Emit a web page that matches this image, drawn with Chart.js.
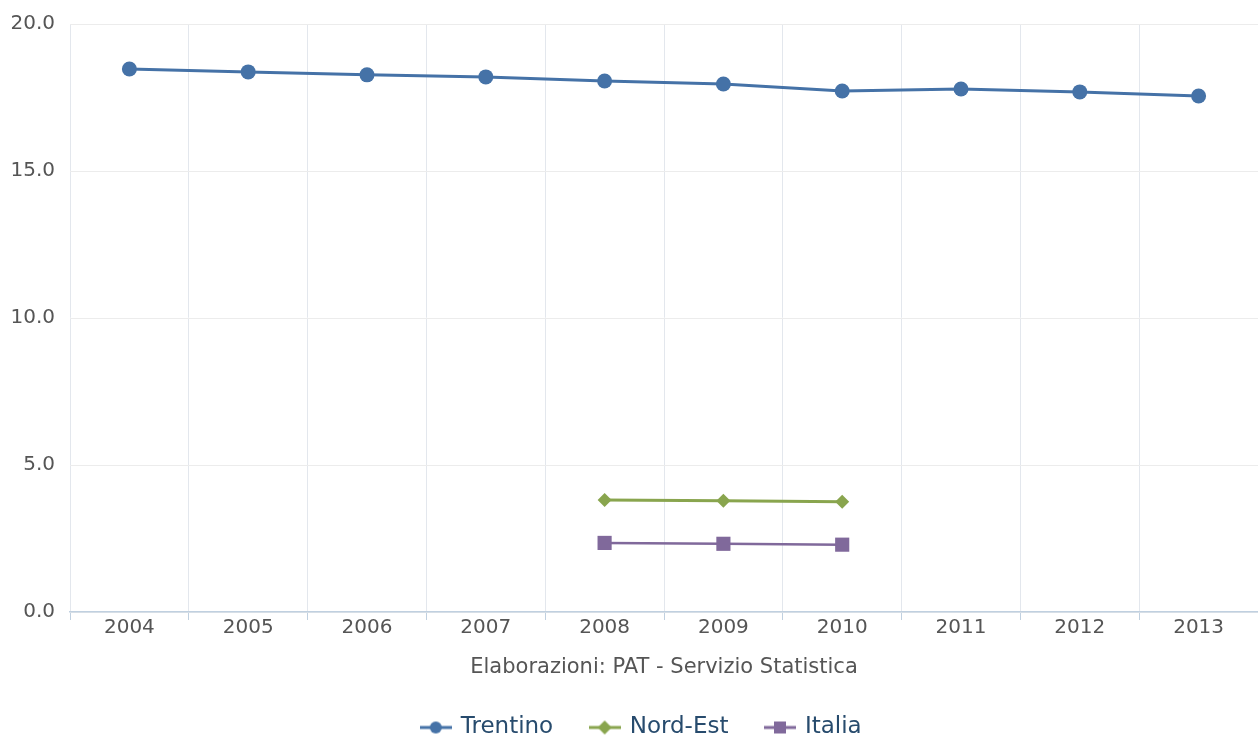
<!DOCTYPE html>
<html>
<head>
<meta charset="utf-8">
<script src="https://cdn.jsdelivr.net/npm/chart.js@4/dist/chart.umd.min.js"></script>
<style>
  html, body { margin: 0; padding: 0; background: #fff; overflow: hidden; }
  canvas { display: block; }
</style>
</head>
<body>
<canvas id="chart" width="1258" height="738"></canvas>
<script>
// data
const years = ['2004', '2005', '2006', '2007', '2008', '2009', '2010', '2011', '2012', '2013'];
const trentino = [18.47, 18.37, 18.27, 18.2, 18.06, 17.96, 17.72, 17.79, 17.69, 17.55];
const nordEst = [null, null, null, null, 3.81, 3.78, 3.75, null, null, null];
const italia = [null, null, null, null, 2.35, 2.32, 2.29, null, null, null];
const yTicks = [0, 5, 10, 15, 20];
const sourceNote = 'Elaborazioni: PAT - Servizio Statistica';

const FONT = '"DejaVu Sans", Verdana, sans-serif';

// legend symbol: short line with the marker on it
function legendIcon(color, shape) {
    const c = document.createElement('canvas');
    c.width = 32; c.height = 16;
    const g = c.getContext('2d');
    g.strokeStyle = color; g.fillStyle = color; g.lineWidth = 3;
    g.beginPath(); g.moveTo(0, 8); g.lineTo(32, 8); g.stroke();
    g.beginPath();
    if (shape === 'circle') {
        g.arc(16, 8, 6, 0, Math.PI * 2);
    } else if (shape === 'diamond') {
        g.moveTo(16, 1); g.lineTo(23, 8); g.lineTo(16, 15); g.lineTo(9, 8); g.closePath();
    } else {
        g.rect(10, 2, 12, 12);
    }
    g.fill();
    return c;
}

const series = [
    { label: 'Trentino', data: trentino, color: '#4572A7', style: 'circle', shape: 'circle', r: 7.5, w: 3 },
    { label: 'Nord-Est', data: nordEst, color: '#89A54E', style: 'rectRot', shape: 'diamond', r: 7, w: 3 },
    { label: 'Italia', data: italia, color: '#80699B', style: 'rect', shape: 'square', r: 10, w: 2.5 }
];

// nudge the legend right so it sits under the plot like the original
const legendShift = {
    id: 'legendShift',
    afterLayout(chart) {
        chart.legend.left += 13;
        chart.legend.right += 13;
    }
};

const ctx = document.getElementById('chart').getContext('2d');
new Chart(ctx, {
    type: 'line',
    plugins: [legendShift],
    data: {
        labels: years,
        datasets: series.map(s => ({
            label: s.label,
            data: s.data,
            borderColor: s.color,
            backgroundColor: s.color,
            borderWidth: s.w,
            pointStyle: s.style,
            pointRadius: s.r,
            pointHoverRadius: s.r,
            pointBorderWidth: 0,
            tension: 0,
            spanGaps: false
        }))
    },
    options: {
        responsive: false, animation: false,
        layout: { autoPadding: false, padding: { top: 0, right: 0, left: 0, bottom: -11 } },
        plugins: {
            tooltip: { enabled: false },
            legend: {
                position: 'bottom',
                labels: {
                    font: { family: FONT, size: 23 },
                    color: '#274b6d',
                    usePointStyle: true,
                    pointStyleWidth: 27,
                    padding: 38,
                    generateLabels: chart => series.map((s, i) => ({
                        text: s.label,
                        fontColor: '#274b6d',
                        pointStyle: legendIcon(s.color, s.shape),
                        datasetIndex: i,
                        hidden: false,
                        lineWidth: 0
                    }))
                }
            }
        },
        scales: {
            x: {
                offset: true,
                afterFit: axis => {
                    axis.height = 66;
                    axis.paddingLeft = 0;
                    axis.paddingRight = 0;
                },
                grid: { display: true, offset: true, color: '#e3e7ed', tickLength: 8, tickColor: '#c0d0e0' },
                border: { display: true, color: '#c0d0e0', width: 1.5 },
                ticks: { font: { family: FONT, size: 20 }, color: '#555', padding: -4 },
                title: {
                    display: true, text: sourceNote,
                    font: { family: FONT, size: 21 }, color: '#555',
                    padding: { top: 11, bottom: -2.5 }
                }
            },
            y: {
                min: 0, max: 20,
                afterBuildTicks: axis => { axis.ticks = yTicks.map(v => ({ value: v })); },
                afterFit: axis => {
                    axis.width = 70;
                    axis.paddingTop = 24;
                    axis.paddingBottom = 0;
                },
                grid: { color: '#ececec', tickLength: 0, drawTicks: false },
                border: { display: false },
                ticks: {
                    font: { family: FONT, size: 20 }, color: '#555', padding: 15,
                    callback: v => Number(v).toFixed(1)
                }
            }
        }
    }
});
</script>
</body>
</html>
